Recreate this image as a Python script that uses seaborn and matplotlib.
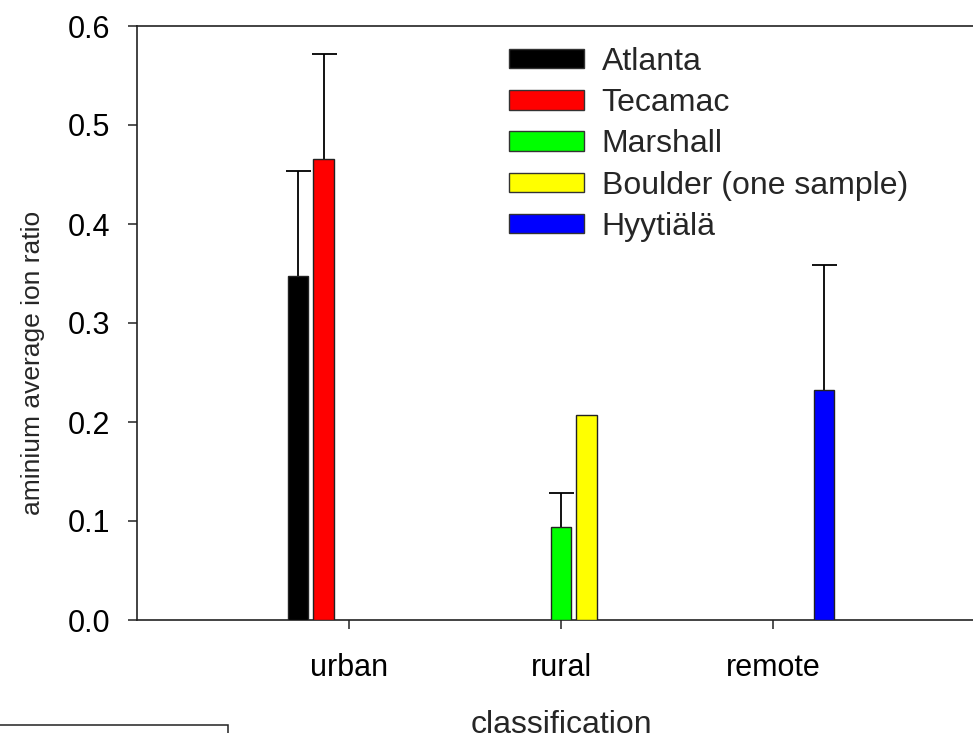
import matplotlib
matplotlib.use("Agg")
import matplotlib.pyplot as plt
import matplotlib.patches as mpatches
import seaborn as sns
import pandas as pd

# Site means and upper error bars of the aminium average ion ratio
classes = ["urban", "rural", "remote"]
sites = ["Atlanta", "Tecamac", "Marshall", "Boulder (one sample)", "Hyytiälä"]
site_class = ["urban", "urban", "rural", "rural", "remote"]
ratio = [0.347, 0.466, 0.094, 0.207, 0.232]
ratio_err = [0.107, 0.106, 0.034, 0.0, 0.127]
colors = ["#000000", "#FF0000", "#00FF00", "#FFFF00", "#0000FF"]
yticks = [0.0, 0.1, 0.2, 0.3, 0.4, 0.5, 0.6]

df = pd.DataFrame({"classification": site_class, "site": sites, "ratio": ratio})

sns.set_style("ticks")
plt.rcParams["font.family"] = ["Liberation Sans", "DejaVu Sans"]

W, H = 973, 733
fig = plt.figure(figsize=(W / 100, H / 100), dpi=100)
ax_left, ax_right, ax_top, ax_bottom = 137, 985, 26, 620
ax = fig.add_axes([ax_left / W, 1 - ax_bottom / H,
                   (ax_right - ax_left) / W, (ax_bottom - ax_top) / H])

sns.barplot(data=df, x="classification", y="ratio", hue="site",
            order=classes, hue_order=sites, palette=colors,
            width=0.6, gap=0.2, errorbar=None, dodge=True,
            edgecolor="#222222", linewidth=1.0, saturation=1.0,
            legend=False, ax=ax, zorder=3)

# Upper-only error bars at each bar's centre (lower cap hidden)
for cont, val, err in zip(ax.containers, ratio, ratio_err):
    bar = cont.patches[0]
    if err > 0:
        xc = bar.get_x() + bar.get_width() / 2
        _, caps, _ = ax.errorbar([xc], [val], yerr=[[0], [err]], fmt="none",
                                 ecolor="black", elinewidth=1.3, capsize=9,
                                 capthick=1.3, zorder=2)
        for cap in caps:
            if abs(cap.get_ydata()[0] - val) < 1e-9:
                cap.set_visible(False)

ax.set_xlim(-1, 3)
ax.set_ylim(0, 0.6)
ax.set_yticks(yticks)
ax.set_yticklabels([f"{v:.1f}" for v in yticks])

for side in ["top", "bottom", "left", "right"]:
    ax.spines[side].set_visible(True)
    ax.spines[side].set_linewidth(1.2)
    ax.spines[side].set_color("#222222")

ax.tick_params(axis="both", direction="out", length=6.5, width=1.1,
               color="#222222", labelsize=22, colors="black")
ax.tick_params(axis="y", pad=13)
ax.tick_params(axis="x", pad=17)

ax.set_xlabel("classification", fontsize=23)
ax.xaxis.set_label_coords(0.5, -0.151)
ax.set_ylabel("aminium average ion ratio", fontsize=19)
ax.yaxis.set_label_coords(-0.108, 0.433)

handles = [mpatches.Patch(facecolor=c, edgecolor="#333333", linewidth=1.0)
           for c in colors]
ax.legend(handles, sites, loc="upper left", frameon=False, fontsize=23,
          bbox_to_anchor=((509 - ax_left) / (ax_right - ax_left),
                          (ax_bottom - 47) / (ax_bottom - ax_top)),
          borderaxespad=0, borderpad=0, handlelength=2.35,
          handleheight=0.55, handletextpad=0.55, labelspacing=0.35)

# Frame of the box at the lower left corner
fig.patches.append(mpatches.Rectangle(
    (-3 / W, -0.05), 231 / W, (H - 725) / H + 0.05,
    transform=fig.transFigure, fill=False, edgecolor="#222222",
    linewidth=1.1, clip_on=False))

fig.savefig("out.png", dpi=100)
